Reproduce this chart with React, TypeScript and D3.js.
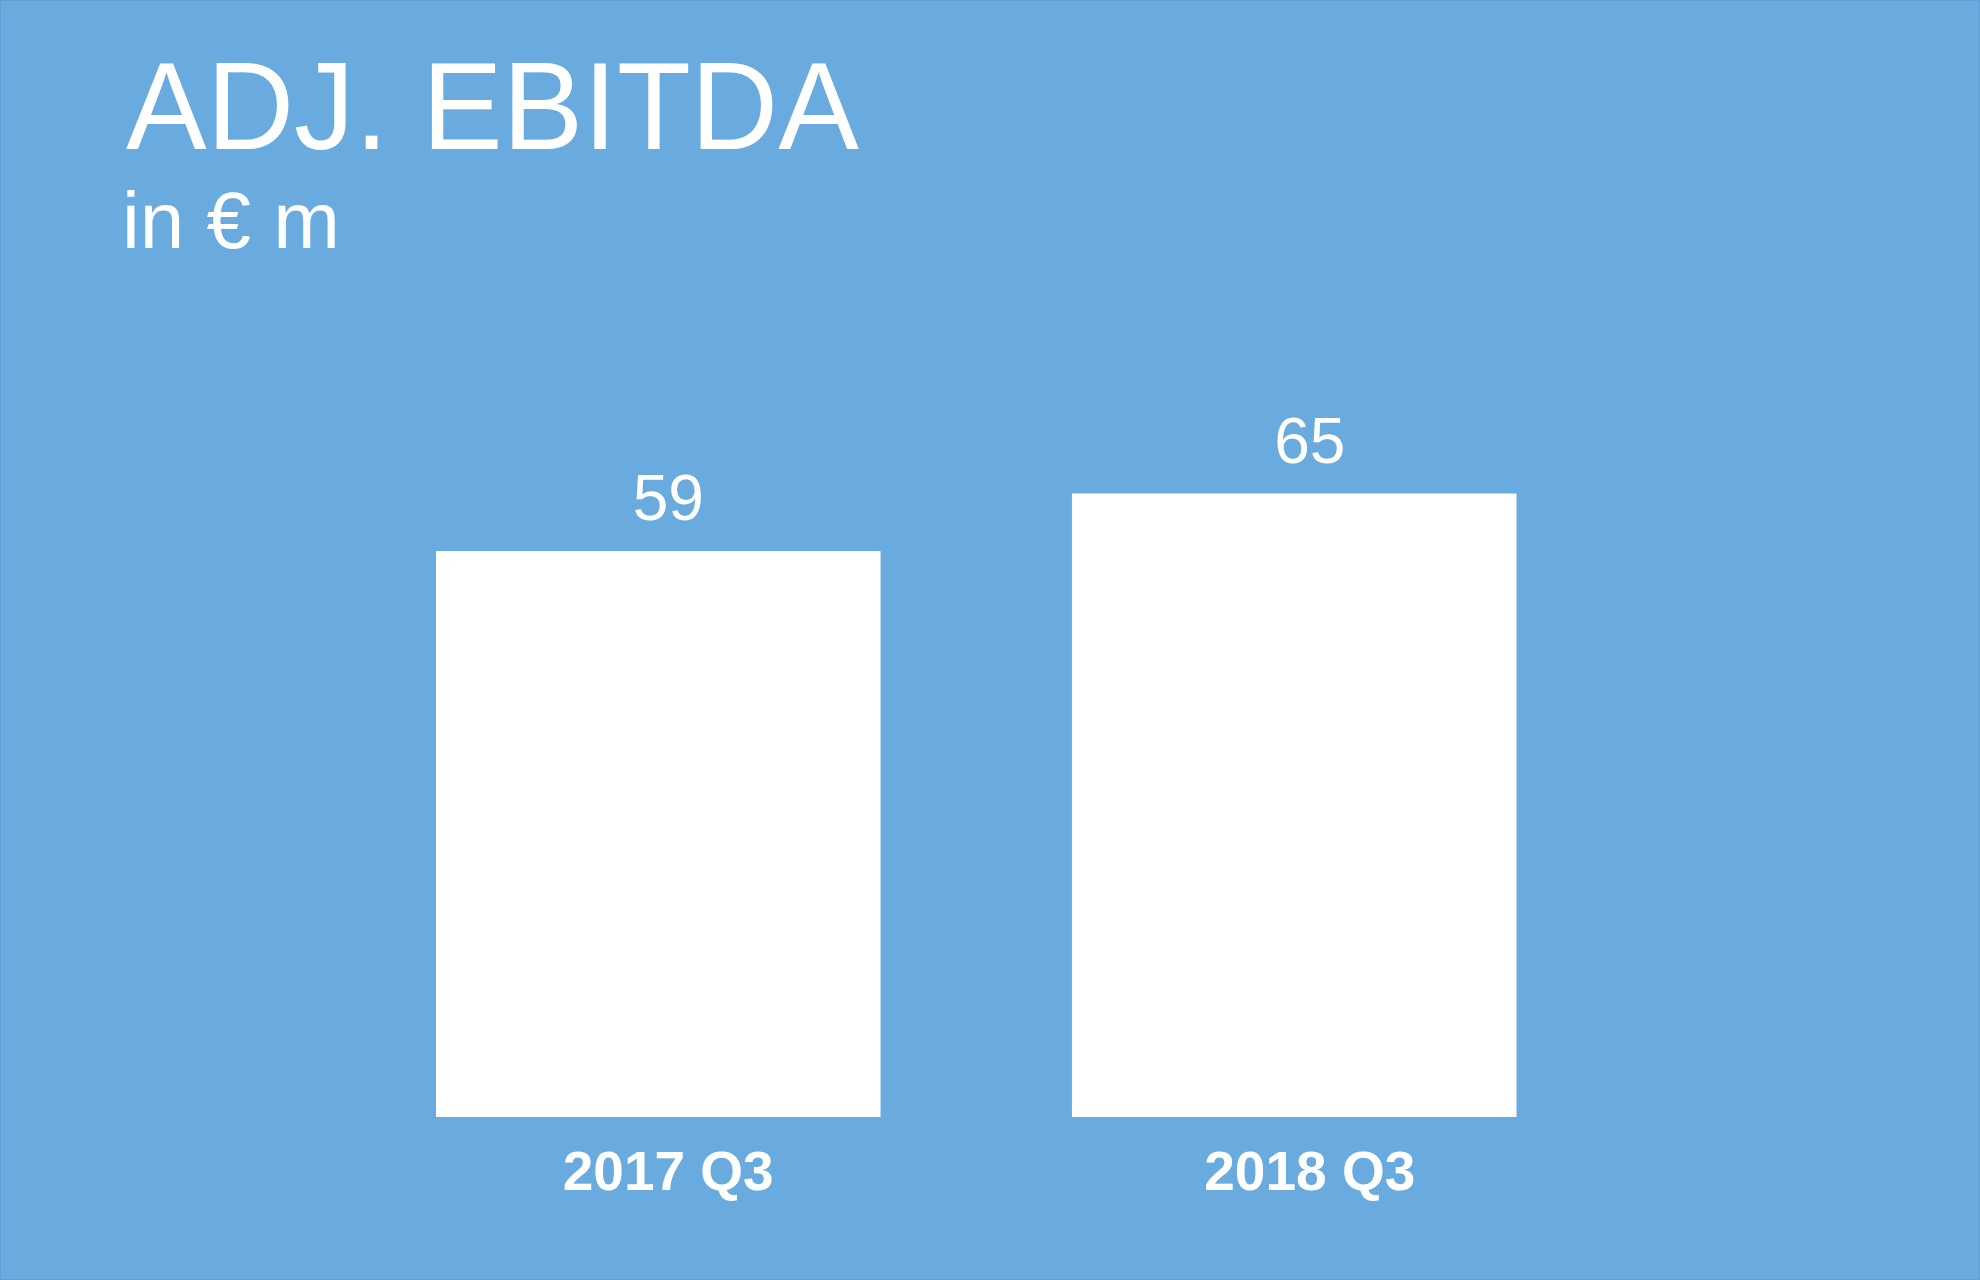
import * as d3 from 'd3';
import React, { useEffect, useRef } from 'react';

const categories: string[] = ['2017 Q3', '2018 Q3'];
const values: number[] = [59, 65];
const title = 'ADJ. EBITDA';
const subtitle = 'in € m';

const width = 1980;
const height = 1280;
const bg = '#69abdf';

export default function App() {
    const ref = useRef<SVGSVGElement | null>(null);

    useEffect(() => {
        const el = ref.current;
        if (!el) return;

        const svg = d3.select(el);
        svg.selectAll('*').remove(); // <-- clear previous

        const font = '"Liberation Sans", Arial, sans-serif';

        svg.append('rect')
            .attr('x', 0.5).attr('y', 0.5)
            .attr('width', width - 1).attr('height', height - 1)
            .attr('fill', bg)
            .attr('stroke', '#5fa0d6')
            .attr('stroke-width', 1);

        const x = d3.scaleBand<string>(categories, [436, 1516.5]).paddingInner(0.301).paddingOuter(0);
        // labels sit a little right of the bar centres in the original
        const xLabel = d3.scaleBand<string>(categories, [444, 1534]).paddingInner(0.301).paddingOuter(0);
        const y = d3.scaleLinear([0, 65], [1117, 493.5]);

        svg.append('g')
            .selectAll('rect')
            .data(values)
            .join('rect')
            .attr('x', (_d, i) => x(categories[i])!)
            .attr('y', d => y(d))
            .attr('width', x.bandwidth())
            .attr('height', d => y(0) - y(d))
            .attr('fill', '#ffffff');

        svg.append('g')
            .selectAll('text')
            .data(values)
            .join('text')
            .attr('x', (_d, i) => xLabel(categories[i])! + xLabel.bandwidth() / 2)
            .attr('y', d => y(d) - 31)
            .attr('text-anchor', 'middle')
            .attr('font-family', font)
            .attr('font-size', 64)
            .attr('fill', '#ffffff')
            .text(d => String(d));

        svg.append('g')
            .selectAll('text')
            .data(categories)
            .join('text')
            .attr('x', d => xLabel(d)! + xLabel.bandwidth() / 2)
            .attr('y', y(0) + 73)
            .attr('text-anchor', 'middle')
            .attr('font-family', font)
            .attr('font-weight', 'bold')
            .attr('font-size', 55)
            .attr('fill', '#ffffff')
            .text(d => d);

        svg.append('text')
            .attr('x', 126)
            .attr('y', 149)
            .attr('font-family', font)
            .attr('font-size', 124)
            .attr('textLength', 733)
            .attr('lengthAdjust', 'spacingAndGlyphs')
            .attr('fill', '#ffffff')
            .text(title);

        svg.append('text')
            .attr('x', 122)
            .attr('y', 248)
            .attr('font-family', font)
            .attr('font-size', 80)
            .attr('fill', '#ffffff')
            .text(subtitle);
    }, []);

    return (
        <div style={{ position: 'absolute', left: 0, top: 0 }}>
            <svg ref={ref} width={width} height={height} viewBox={`0 0 ${width} ${height}`} style={{ display: 'block' }} />
        </div>
    );
}
